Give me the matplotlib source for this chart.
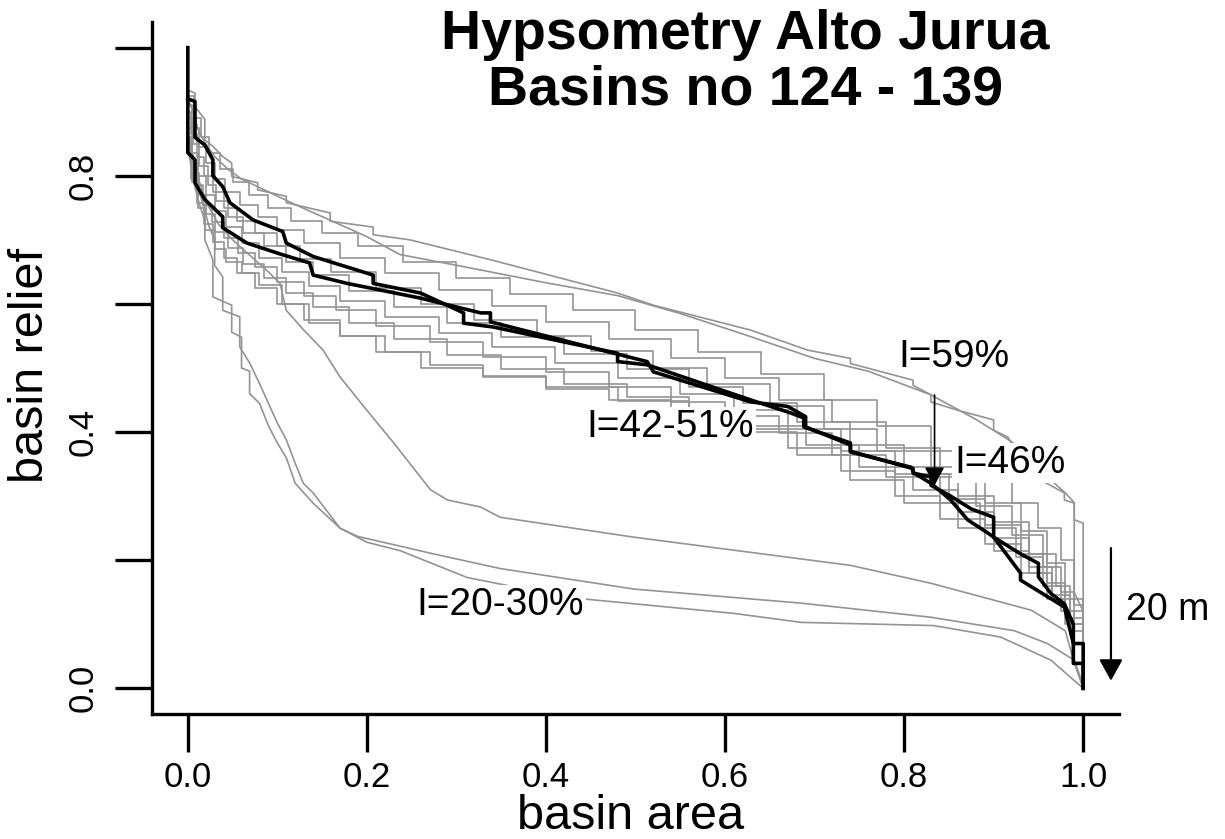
import matplotlib
matplotlib.use("Agg")
import matplotlib.pyplot as plt

plt.rcParams['font.family'] = ['Liberation Sans', 'DejaVu Sans']

# ---------------- data ----------------
# black highlighted basins
b1_x = [0, 0, 0.008, 0.008, 0.019, 0.039, 0.039, 0.066, 0.103, 0.136, 0.14, 0.178, 0.26, 0.327, 0.338, 0.338,
        0.476, 0.513, 0.52, 0.629, 0.67, 0.69, 0.69, 0.74, 0.74, 0.808, 0.811, 0.83, 0.852, 0.871, 0.894, 0.90,
        0.93, 0.95, 0.95, 0.964, 0.979, 0.989, 0.989, 1.0, 1.0]
b1_y = [1.0, 0.836, 0.825, 0.789, 0.763, 0.736, 0.719, 0.695, 0.678, 0.664, 0.645, 0.632, 0.609, 0.586, 0.586, 0.572,
        0.523, 0.51, 0.494, 0.447, 0.44, 0.424, 0.408, 0.38, 0.369, 0.345, 0.336, 0.32, 0.294, 0.263, 0.242, 0.236,
        0.21, 0.195, 0.174, 0.148, 0.132, 0.10, 0.039, 0.039, 0.0]
b2_x = [0, 0.008, 0.008, 0.019, 0.028, 0.028, 0.039, 0.047, 0.073, 0.106, 0.11, 0.14, 0.207, 0.207, 0.26, 0.308,
        0.308, 0.341, 0.48, 0.48, 0.513, 0.629, 0.673, 0.688, 0.688, 0.74, 0.74, 0.81, 0.81, 0.83, 0.83, 0.852,
        0.875, 0.90, 0.90, 0.93, 0.93, 0.979, 0.989, 1.0, 1.0]
b2_y = [0.92, 0.916, 0.86, 0.848, 0.825, 0.80, 0.783, 0.758, 0.731, 0.713, 0.695, 0.674, 0.645, 0.632, 0.617, 0.586,
        0.57, 0.564, 0.523, 0.51, 0.505, 0.45, 0.43, 0.422, 0.408, 0.383, 0.37, 0.343, 0.336, 0.33, 0.317, 0.30,
        0.28, 0.267, 0.236, 0.18, 0.169, 0.127, 0.07, 0.07, 0.0]

# top pair (I=59%)
t1_x = [0, 0.008, 0.008, 0.019, 0.019, 0.028, 0.039, 0.049, 0.049, 0.078, 0.078, 0.11, 0.11, 0.159, 0.159, 0.207,
        0.207, 0.248, 0.338, 0.48, 0.52, 0.629, 0.692, 0.74, 0.74, 0.81, 0.81, 0.83, 0.83, 0.86, 0.90, 0.90,
        0.916, 0.938, 0.979, 0.979, 0.99, 0.99, 1.0, 1.0]
t1_y = [0.934, 0.929, 0.908, 0.888, 0.856, 0.846, 0.83, 0.82, 0.799, 0.789, 0.778, 0.768, 0.758, 0.742, 0.729, 0.72,
        0.708, 0.70, 0.669, 0.617, 0.598, 0.559, 0.528, 0.515, 0.507, 0.481, 0.473, 0.458, 0.447, 0.434, 0.419, 0.403,
        0.392, 0.336, 0.305, 0.294, 0.289, 0.263, 0.258, 0.0]
t2_x = [0, 0.006, 0.012, 0.02, 0.03, 0.045, 0.06, 0.09, 0.12, 0.16, 0.2, 0.237, 0.305, 0.4, 0.48, 0.55, 0.62,
        0.7, 0.76, 0.83, 0.88, 0.92, 0.96, 0.98, 0.99, 0.99, 1.0, 1.0]
t2_y = [0.92, 0.9, 0.87, 0.85, 0.83, 0.81, 0.795, 0.775, 0.755, 0.73, 0.705, 0.677, 0.659, 0.633, 0.613, 0.585, 0.553,
        0.515, 0.495, 0.458, 0.42, 0.385, 0.33, 0.305, 0.29, 0.15, 0.12, 0.0]

# main band (I=42-51%), drawn as steps
g1_x = [0, 0.007, 0.015, 0.024, 0.036, 0.05, 0.068, 0.09, 0.115, 0.15, 0.19, 0.24, 0.3, 0.36, 0.43, 0.5, 0.57,
        0.64, 0.71, 0.77, 0.83, 0.88, 0.92, 0.95, 0.975, 0.99, 1.0]
g1_y = [0.925, 0.89, 0.86, 0.835, 0.81, 0.79, 0.77, 0.75, 0.73, 0.71, 0.69, 0.665, 0.64, 0.615, 0.59, 0.56, 0.525,
        0.49, 0.45, 0.41, 0.37, 0.33, 0.29, 0.25, 0.2, 0.13, 0.0]
g2_x = [0, 0.005, 0.012, 0.02, 0.03, 0.042, 0.058, 0.078, 0.1, 0.13, 0.17, 0.22, 0.28, 0.34, 0.4, 0.47, 0.54,
        0.6, 0.66, 0.72, 0.78, 0.84, 0.89, 0.93, 0.96, 0.98, 1.0]
g2_y = [0.91, 0.875, 0.845, 0.82, 0.795, 0.775, 0.755, 0.735, 0.715, 0.695, 0.672, 0.648, 0.622, 0.596, 0.572, 0.545,
        0.515, 0.485, 0.45, 0.415, 0.375, 0.335, 0.29, 0.245, 0.195, 0.14, 0.0]
g3_x = [0, 0.004, 0.01, 0.018, 0.028, 0.04, 0.055, 0.075, 0.1, 0.125, 0.16, 0.21, 0.26, 0.32, 0.39, 0.45, 0.52,
        0.58, 0.65, 0.71, 0.77, 0.83, 0.88, 0.92, 0.955, 0.975, 0.99, 1.0]
g3_y = [0.9, 0.865, 0.83, 0.8, 0.775, 0.75, 0.73, 0.71, 0.69, 0.67, 0.65, 0.625, 0.6, 0.575, 0.55, 0.527, 0.5,
        0.475, 0.44, 0.405, 0.37, 0.33, 0.285, 0.24, 0.19, 0.15, 0.09, 0.0]
g4_x = [0, 0.006, 0.013, 0.022, 0.032, 0.045, 0.062, 0.085, 0.11, 0.14, 0.18, 0.23, 0.29, 0.35, 0.42, 0.49, 0.56,
        0.62, 0.68, 0.74, 0.8, 0.86, 0.9, 0.94, 0.97, 0.985, 1.0]
g4_y = [0.89, 0.85, 0.815, 0.785, 0.76, 0.735, 0.71, 0.69, 0.665, 0.645, 0.62, 0.595, 0.57, 0.548, 0.522, 0.498,
        0.47, 0.445, 0.415, 0.38, 0.345, 0.3, 0.26, 0.21, 0.16, 0.11, 0.0]
g5_x = [0, 0.005, 0.011, 0.02, 0.03, 0.043, 0.06, 0.08, 0.105, 0.135, 0.17, 0.22, 0.28, 0.34, 0.41, 0.48, 0.55,
        0.61, 0.67, 0.73, 0.79, 0.85, 0.89, 0.93, 0.96, 0.98, 1.0]
g5_y = [0.875, 0.835, 0.8, 0.77, 0.745, 0.72, 0.695, 0.672, 0.65, 0.628, 0.605, 0.58, 0.555, 0.532, 0.508, 0.485,
        0.46, 0.435, 0.405, 0.37, 0.335, 0.295, 0.255, 0.21, 0.165, 0.12, 0.0]
g6_x = [0, 0.004, 0.01, 0.017, 0.027, 0.04, 0.056, 0.075, 0.1, 0.13, 0.165, 0.21, 0.27, 0.33, 0.4, 0.47, 0.54,
        0.6, 0.66, 0.72, 0.78, 0.84, 0.885, 0.925, 0.955, 0.975, 0.99, 1.0]
g6_y = [0.86, 0.82, 0.785, 0.755, 0.728, 0.703, 0.68, 0.657, 0.635, 0.612, 0.59, 0.566, 0.54, 0.517, 0.493, 0.47,
        0.447, 0.425, 0.398, 0.365, 0.33, 0.29, 0.25, 0.205, 0.16, 0.12, 0.07, 0.0]
g7_x = [0, 0.005, 0.012, 0.02, 0.03, 0.045, 0.062, 0.085, 0.11, 0.14, 0.18, 0.23, 0.29, 0.35, 0.42, 0.49, 0.56,
        0.63, 0.69, 0.75, 0.81, 0.86, 0.9, 0.94, 0.965, 0.985, 1.0]
g7_y = [0.85, 0.805, 0.77, 0.74, 0.713, 0.687, 0.663, 0.64, 0.617, 0.595, 0.57, 0.545, 0.52, 0.498, 0.475, 0.455,
        0.433, 0.41, 0.38, 0.345, 0.31, 0.275, 0.235, 0.19, 0.145, 0.1, 0.0]
g8_x = [0, 0.004, 0.01, 0.018, 0.028, 0.04, 0.055, 0.075, 0.1, 0.13, 0.17, 0.22, 0.27, 0.33, 0.4, 0.47, 0.54,
        0.61, 0.67, 0.73, 0.79, 0.84, 0.89, 0.93, 0.96, 0.98, 1.0]
g8_y = [0.84, 0.795, 0.757, 0.725, 0.697, 0.672, 0.648, 0.625, 0.6, 0.575, 0.55, 0.525, 0.505, 0.487, 0.468, 0.45,
        0.43, 0.405, 0.375, 0.34, 0.3, 0.265, 0.225, 0.18, 0.14, 0.1, 0.0]
g9_x = [0, 0.005, 0.011, 0.019, 0.03, 0.043, 0.06, 0.08, 0.105, 0.135, 0.17, 0.21, 0.26, 0.33, 0.4, 0.48, 0.56,
        0.62, 0.68, 0.74, 0.8, 0.86, 0.9, 0.94, 0.965, 0.98, 0.99, 1.0]
g9_y = [0.845, 0.79, 0.75, 0.715, 0.685, 0.665, 0.648, 0.63, 0.60, 0.57, 0.55, 0.525, 0.5, 0.486, 0.47, 0.448, 0.425,
        0.4, 0.365, 0.325, 0.29, 0.25, 0.215, 0.18, 0.14, 0.11, 0.04, 0.0]

# lower group (I=20-30%)
l1_x = [0, 0.005, 0.012, 0.019, 0.019, 0.028, 0.028, 0.049, 0.049, 0.06, 0.06, 0.069, 0.069, 0.08, 0.09, 0.10,
        0.11, 0.12, 0.14, 0.17, 0.19, 0.237, 0.274, 0.349, 0.498, 0.685, 0.83, 0.923, 0.96, 0.99, 1.0]
l1_y = [0.85, 0.80, 0.76, 0.73, 0.70, 0.669, 0.611, 0.598, 0.556, 0.548, 0.50, 0.495, 0.46, 0.445, 0.41, 0.383,
        0.36, 0.32, 0.289, 0.25, 0.237, 0.222, 0.21, 0.187, 0.155, 0.133, 0.111, 0.09, 0.07, 0.044, 0.005]
l2_x = [0, 0.006, 0.014, 0.024, 0.03, 0.03, 0.039, 0.039, 0.058, 0.058, 0.069, 0.08, 0.09, 0.10, 0.11, 0.12,
        0.129, 0.14, 0.17, 0.2, 0.237, 0.312, 0.424, 0.61, 0.685, 0.833, 0.908, 0.964, 1.0]
l2_y = [0.86, 0.82, 0.77, 0.72, 0.70, 0.66, 0.642, 0.59, 0.58, 0.533, 0.508, 0.476, 0.445, 0.414, 0.388, 0.351,
        0.32, 0.305, 0.25, 0.228, 0.215, 0.173, 0.142, 0.117, 0.103, 0.098, 0.08, 0.044, 0.0]
l3_x = [0, 0.006, 0.013, 0.022, 0.034, 0.05, 0.07, 0.09, 0.103, 0.11, 0.129, 0.151, 0.17, 0.2, 0.23, 0.271, 0.29,
        0.327, 0.349, 0.498, 0.74, 0.83, 0.942, 0.98, 0.99, 1.0]
l3_y = [0.87, 0.83, 0.79, 0.755, 0.725, 0.70, 0.675, 0.65, 0.632, 0.59, 0.56, 0.528, 0.486, 0.434, 0.383, 0.31,
        0.294, 0.283, 0.267, 0.236, 0.192, 0.164, 0.122, 0.09, 0.04, 0.0]

x_ticks = [0.0, 0.2, 0.4, 0.6, 0.8, 1.0]
x_tick_labels = ["0.0", "0.2", "0.4", "0.6", "0.8", "1.0"]
y_ticks = [0.0, 0.2, 0.4, 0.6, 0.8, 1.0]
y_tick_labels = ["0.0", "", "0.4", "", "0.8", ""]

# ---------------- figure ----------------
fig = plt.figure(figsize=(12.25, 8.39), dpi=100)
ax = fig.add_axes([152 / 1225, 1 - 714 / 839, (1119 - 152) / 1225, (714 - 22) / 839])

GRAY = '#939393'
band = [(g1_x, g1_y), (g2_x, g2_y), (g3_x, g3_y), (g4_x, g4_y), (g5_x, g5_y),
        (g6_x, g6_y), (g7_x, g7_y), (g8_x, g8_y), (g9_x, g9_y)]
for gx, gy in band:
    ax.plot(gx, gy, color=GRAY, lw=1.2, drawstyle='steps-post', zorder=2)
for gx, gy in [(t1_x, t1_y), (t2_x, t2_y), (l1_x, l1_y), (l2_x, l2_y), (l3_x, l3_y)]:
    ax.plot(gx, gy, color=GRAY, lw=1.2, zorder=2)
ax.plot(b1_x, b1_y, color='black', lw=2.6, zorder=3)
ax.plot(b2_x, b2_y, color='black', lw=2.6, zorder=3)

ax.set_xlim(-0.04, 1.04)
ax.set_ylim(-0.04, 1.04)
for s in ['top', 'right']:
    ax.spines[s].set_visible(False)
for s in ['left', 'bottom']:
    ax.spines[s].set_linewidth(2.4)

ax.set_xticks(x_ticks)
ax.set_xticklabels(x_tick_labels)
ax.set_yticks(y_ticks)
ax.set_yticklabels(y_tick_labels, rotation=90, va='center')
ax.tick_params(axis='both', length=27, width=2.4, labelsize=25)
ax.tick_params(axis='x', pad=7)
ax.tick_params(axis='y', pad=11)

ax.set_xlabel("basin area", fontsize=35)
ax.set_ylabel("basin relief", fontsize=35)
ax.xaxis.set_label_coords(0.495, -0.148)
ax.yaxis.set_label_coords(-0.126, 0.504)
ax.xaxis.label.set_va('center')
ax.yaxis.label.set_va('center')

fig.text(745 / 1225, 1 - 9 / 839, "Hypsometry Alto Jurua\nBasins no 124 - 139",
         ha='center', va='top', fontsize=40, fontweight='bold', linespacing=1.08)

bbox_w = dict(facecolor='white', edgecolor='none', pad=1.5)
ax.text(0.856, 0.517, "I=59%", fontsize=28, ha='center', va='center', zorder=5)
ax.text(0.918, 0.352, "I=46%", fontsize=28, ha='center', va='center', bbox=bbox_w, zorder=5)
ax.text(0.539, 0.408, "I=42-51%", fontsize=28, ha='center', va='center', bbox=bbox_w, zorder=5)
ax.text(0.349, 0.130, "I=20-30%", fontsize=28, ha='center', va='center', bbox=bbox_w, zorder=5)
ax.text(1.048, 0.122, "20 m", fontsize=27, ha='left', va='center', clip_on=False, zorder=5)

ax.annotate('', xy=(0.834, 0.317), xytext=(0.834, 0.458),
            arrowprops=dict(arrowstyle='-|>,head_length=1.1,head_width=0.6', lw=1.2, color='black',
                            shrinkA=0, shrinkB=0, mutation_scale=10), zorder=6)
ax.annotate('', xy=(1.031, 0.012), xytext=(1.031, 0.219),
            arrowprops=dict(arrowstyle='-|>,head_length=1.3,head_width=0.72', lw=1.6, color='black',
                            shrinkA=0, shrinkB=0, mutation_scale=10), annotation_clip=False, zorder=6)

fig.savefig("out.png", dpi=100)
